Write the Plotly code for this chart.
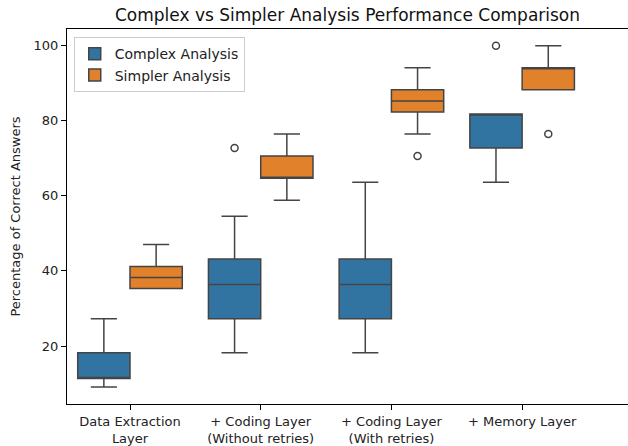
import plotly.graph_objects as go

categories = ["Data Extraction<br>Layer", "+ Coding Layer<br>(Without retries)",
              "+ Coding Layer<br>(With retries)", "+ Memory Layer"]
positions = [0, 1, 2, 3]

# Complex Analysis stats
complex_min = [9.09, 18.18, 18.18, 63.64]
complex_q1 = [11.36, 27.27, 27.27, 72.73]
complex_med = [11.36, 36.36, 36.36, 81.82]
complex_q3 = [18.18, 43.18, 43.18, 81.82]
complex_max = [27.27, 54.55, 63.64, 81.82]
complex_out_x = [1, 3]
complex_out_y = [72.73, 100.0]

# Simpler Analysis stats
simple_min = [35.29, 58.82, 76.47, 88.24]
simple_q1 = [35.29, 64.71, 82.35, 88.24]
simple_med = [38.24, 64.71, 85.29, 94.12]
simple_q3 = [41.18, 70.59, 88.24, 94.12]
simple_max = [47.06, 76.47, 94.12, 100.0]
simple_out_x = [2, 3]
simple_out_y = [70.59, 76.47]

BLUE = "#3274A1"
ORANGE = "#E1812C"
LINE = "#444444"
OFF = 0.2

fig = go.Figure()
for name, color, q1, med, q3, lo, hi in [
    ("Complex Analysis", BLUE, complex_q1, complex_med, complex_q3, complex_min, complex_max),
    ("Simpler Analysis", ORANGE, simple_q1, simple_med, simple_q3, simple_min, simple_max),
]:
    fig.add_trace(go.Box(
        name=name, x=positions, q1=q1, median=med, q3=q3,
        lowerfence=lo, upperfence=hi, offsetgroup=name,
        fillcolor=color, line=dict(color=LINE, width=1.5),
        whiskerwidth=0.5, boxpoints=False, hoverinfo="skip",
    ))

for xs, ys in [(complex_out_x, complex_out_y), (simple_out_x, simple_out_y)]:
    off = -OFF if ys is complex_out_y else OFF
    fig.add_trace(go.Scatter(
        x=[v + off for v in xs], y=ys, mode="markers", showlegend=False,
        marker=dict(symbol="circle-open", size=7, color=LINE, line=dict(width=1.5, color=LINE)),
        hoverinfo="skip",
    ))

fig.update_layout(
    width=628, height=446,
    margin=dict(l=67, r=0, t=29, b=42),
    paper_bgcolor="white", plot_bgcolor="white",
    font=dict(family="DejaVu Sans", size=13, color="#222"),
    title=dict(text="Complex vs Simpler Analysis Performance Comparison",
               x=(67 + 628) / 2 / 628, xanchor="center", y=1 - 15 / 446, yanchor="middle",
               font=dict(size=17, color="#111")),
    boxmode="group", boxgap=0.2, boxgroupgap=0.0,
    legend=dict(x=0.012, y=0.978, xanchor="left", yanchor="top",
                bgcolor="rgba(255,255,255,0.85)", bordercolor="#cccccc", borderwidth=1,
                font=dict(size=14), tracegroupgap=0),
    showlegend=True,
)
fig.update_xaxes(range=[-0.482, 3.81], tickvals=positions, ticktext=categories,
                 showline=True, linecolor="black", linewidth=1, mirror=True,
                 ticks="outside", ticklen=5, tickcolor="black", showgrid=False, zeroline=False)
fig.update_yaxes(range=[4.55, 104.45], tickvals=[20, 40, 60, 80, 100],
                 title=dict(text="Percentage of Correct Answers", standoff=10, font=dict(size=13)),
                 showline=True, linecolor="black", linewidth=1, mirror=True,
                 ticks="outside", ticklen=5, tickcolor="black", showgrid=False, zeroline=False)

fig.write_html("out.html")
